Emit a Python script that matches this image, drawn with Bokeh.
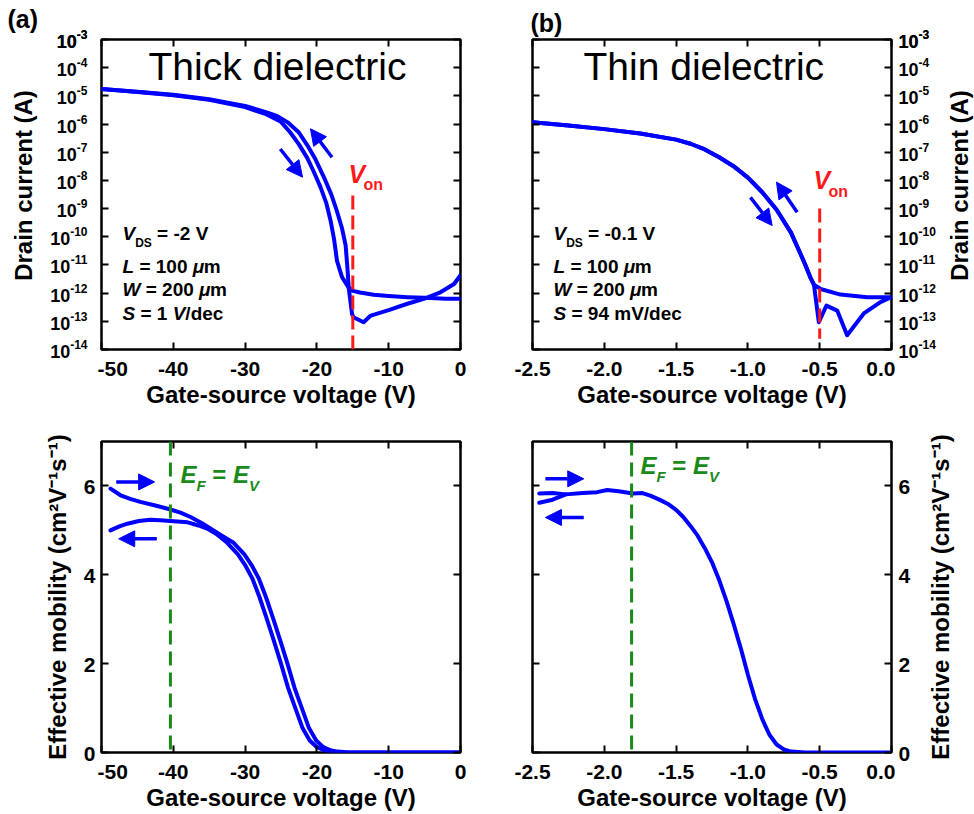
import math
from bokeh.plotting import figure
from bokeh.models import (Range1d, LinearAxis, LogAxis, FixedTicker, Label, Arrow,
                          NormalHead, CustomJSTickFormatter, PrintfTickFormatter)
from bokeh.core.properties import value
from bokeh.layouts import column, row
from bokeh.embed import file_html
from bokeh.resources import INLINE

FONT = "Liberation Sans"
BLUE = "#0000ff"
RED = "#ff1a1a"
GREEN = "#1a8a1a"

# ---------------- data ----------------
# (a) thick dielectric transfer curve, forward sweep (-50 V -> 0 V)
THICK_FWD_VG = [-50, -45, -40, -35, -30, -27, -25, -23.7, -22.5, -21.35, -20.5, -19.5, -18.7,
                -18.1, -17.6, -17.2, -16.5, -15.6, -15.0, -14.0, -12.1, -10.0, -7.4, -5.0, -2.0, 0.0]
THICK_FWD_ID = [1.74e-5, 1.38e-5, 1.05e-5, 7.2e-6, 4.0e-6, 2.2e-6, 1.2e-6, 5.0e-7, 1.9e-7, 6.3e-8,
                2.2e-8, 5.8e-9, 1.6e-9, 3.8e-10, 7.9e-11, 1.4e-11, 3.7e-12, 1.6e-12, 1.2e-12,
                1.05e-12, 8.7e-13, 7.9e-13, 7.2e-13, 6.8e-13, 6.3e-13, 6.3e-13]
# (a) reverse sweep (0 V -> -50 V)
THICK_REV_VG = [0.0, -0.9, -2.8, -5.1, -7.4, -10.0, -12.5, -13.5, -14.9, -15.1, -15.55, -15.75,
                -16.0, -16.5, -17.2, -18.0, -19.08, -20.2, -21.35, -22.5, -24.0, -25.5, -27.0,
                -30.0, -35.0, -40.0, -45.0, -50.0]
THICK_REV_ID = [4.3e-12, 2.1e-12, 1.07e-12, 6.3e-13, 4.2e-13, 2.5e-13, 1.6e-13, 9.3e-14, 1.4e-13,
                1.8e-13, 1.4e-12, 7.9e-12, 5.0e-11, 2.0e-10, 7.9e-10, 3.2e-9, 1.4e-8, 5.6e-8,
                1.8e-7, 5.0e-7, 1.12e-6, 1.9e-6, 2.6e-6, 4.4e-6, 7.6e-6, 1.1e-5, 1.4e-5, 1.74e-5]

# (b) thin dielectric transfer curve, forward sweep
THIN_FWD_VG = [-2.5, -2.25, -2.0, -1.75, -1.5, -1.4, -1.3, -1.2, -1.1, -1.0, -0.9, -0.8, -0.7,
               -0.634, -0.6, -0.564, -0.54, -0.506, -0.453, -0.378, -0.309, -0.193, -0.077, 0.0]
THIN_FWD_ID = [1.15e-6, 8.9e-7, 6.6e-7, 4.6e-7, 2.8e-7, 2.0e-7, 1.26e-7, 6.6e-8, 3.2e-8, 1.26e-8,
               3.8e-9, 9.1e-10, 1.41e-10, 2.5e-11, 1.0e-11, 3.5e-12, 2.0e-12, 9.3e-14, 3.6e-13,
               2.4e-13, 3.2e-14, 1.9e-13, 4.8e-13, 7.2e-13]
# (b) reverse sweep
THIN_REV_VG = [0.0, -0.17, -0.355, -0.494, -0.54, -0.564, -0.6, -0.634, -0.7, -0.8, -0.9, -1.0,
               -1.1, -1.2, -1.3, -1.4, -1.5, -1.75, -2.0, -2.25, -2.5]
THIN_REV_ID = [7.2e-13, 7.2e-13, 8.9e-13, 1.4e-12, 2.0e-12, 3.5e-12, 1.0e-11, 2.5e-11, 1.41e-10,
               9.1e-10, 3.8e-9, 1.26e-8, 3.2e-8, 6.6e-8, 1.26e-7, 2.0e-7, 2.8e-7, 4.6e-7, 6.6e-7,
               8.9e-7, 1.15e-6]

# (a) effective mobility, two sweep directions
THICK_MU_UP_VG = [-48.75, -47.35, -46.0, -44.6, -42.5, -40.4, -39.0, -37.6, -36.0, -34.4, -33.0,
                  -31.6, -30.1, -29.1, -28.1, -27.1, -26.1, -25.1, -24.1, -23.1, -22.1, -21.1,
                  -20.1, -19.1, -18.1, -17.1, -15.5, -10.0, 0.0]
THICK_MU_UP = [5.94, 5.79, 5.71, 5.64, 5.56, 5.47, 5.40, 5.30, 5.16, 5.00, 4.86, 4.72, 4.46,
               4.22, 3.92, 3.50, 3.02, 2.52, 2.00, 1.45, 1.00, 0.55, 0.27, 0.12, 0.05, 0.02, 0.0,
               0.0, 0.0]
THICK_MU_DN_VG = [-48.75, -47.5, -46.4, -44.8, -43.2, -41.8, -40.4, -38.0, -36.5, -35.3, -34.0,
                  -32.5, -31.0, -30.0, -29.0, -28.0, -27.0, -26.0, -25.0, -24.0, -23.0, -22.0,
                  -21.0, -20.0, -19.0, -18.0, -16.5, -10.0, 0.0]
THICK_MU_DN = [5.00, 5.09, 5.15, 5.21, 5.24, 5.23, 5.21, 5.18, 5.11, 5.04, 4.92, 4.72, 4.46, 4.22,
               3.92, 3.50, 3.02, 2.52, 2.00, 1.45, 1.00, 0.55, 0.27, 0.12, 0.05, 0.02, 0.0, 0.0,
               0.0]

# (b) effective mobility
THIN_MU_UP_VG = [-2.453, -2.36, -2.268, -2.15, -2.05, -1.98, -1.9, -1.8, -1.734, -1.68, -1.609,
                 -1.55, -1.5, -1.45, -1.4, -1.35, -1.3, -1.25, -1.2, -1.15, -1.1, -1.05, -1.0,
                 -0.95, -0.9, -0.85, -0.8, -0.75, -0.7, -0.6, 0.0]
THIN_MU_UP = [5.83, 5.84, 5.81, 5.84, 5.86, 5.91, 5.88, 5.83, 5.84, 5.78, 5.68, 5.58, 5.46, 5.30,
              5.10, 4.88, 4.60, 4.28, 3.88, 3.42, 2.90, 2.35, 1.75, 1.20, 0.75, 0.40, 0.18, 0.07,
              0.02, 0.0, 0.0]
THIN_MU_DN_VG = [-2.453, -2.36, -2.268]
THIN_MU_DN = [5.62, 5.69, 5.81]

# markers on the voltage axis
V_ON_THICK = -15.0
V_ON_THIN = -0.5
EF_EV_THICK = -40.4
EF_EV_THIN = -1.81

# axis ticks
THICK_VG_TICKS = [-50, -40, -30, -20, -10, 0]
THIN_VG_TICKS = [-2.5, -2.0, -1.5, -1.0, -0.5, 0.0]
ID_EXPONENTS = list(range(-14, -2))
MU_TICKS = [0, 2, 4, 6]

# ---------------- geometry ----------------
FW, TOP_H, BOT_H = 359, 310, 311
ROW1_H, ROW2_H = 420, 394
A_TOP, A_BOT = 39, ROW1_H - 39 - TOP_H
C_TOP, C_BOT = 21, ROW2_H - 21 - BOT_H
LEFT_STRIP, RIGHT_STRIP = 97, 79
TEN_SIZE, EXP_SIZE = 18, 12

# Liberation Sans Bold advance widths (1/1000 em)
ADV = {" ": 278, "-": 333, "=": 584, ".": 278, "/": 278, "(": 333, ")": 333, "V": 667, "L": 611,
       "W": 944, "S": 667, "D": 722, "E": 667, "F": 611, "m": 889, "μ": 576, "d": 611, "e": 556,
       "c": 556, "o": 611, "n": 611}


def width(s, size):
    return sum(ADV.get(ch, 556) for ch in s) * size / 1000.0


def note(p, dx, dy, text, size, color="black", style="bold"):
    """Text whose baseline starts at (dx, dy) pixels from the frame's top-left corner."""
    p.add_layout(Label(x=p.x_range.start, y=p.y_range.start, x_offset=dx,
                       y_offset=p.frame_height - (dy - 0.35 * size), text=text, text_font=FONT,
                       text_font_size=f"{size}px", text_font_style=style, text_color=color,
                       text_align="left", text_baseline="middle"))


def rich(p, dx, dy, pieces, color="black"):
    """Run of text pieces (text, size, style, drop) laid out left to right."""
    x = dx
    for text, size, style, drop in pieces:
        body = text.lstrip(" ")
        x += width(text[:len(text) - len(body)], size)
        note(p, x, dy + drop, body, size, color=color, style=style)
        x += width(body, size)


def panel(xr, yr, log_y, fh, left, right, top, bottom):
    p = figure(frame_width=FW, frame_height=fh, x_range=Range1d(*xr), y_range=Range1d(*yr),
               y_axis_type="log" if log_y else "linear", x_axis_location=None,
               y_axis_location=None, min_border_left=left, min_border_right=right,
               min_border_top=top, min_border_bottom=bottom, toolbar_location=None,
               output_backend="svg", outline_line_color="black", outline_line_width=2.5,
               background_fill_color="white", border_fill_color="white", frame_align=False)
    p.xgrid.visible = False
    p.ygrid.visible = False
    return p


def strip(w, h, yr, log_y):
    s = figure(frame_width=w, frame_height=h, x_range=Range1d(0, w), y_range=Range1d(*yr),
               y_axis_type="log" if log_y else "linear", x_axis_location=None,
               y_axis_location=None, min_border_left=0, min_border_right=0, min_border_top=0,
               min_border_bottom=0, toolbar_location=None, output_backend="svg",
               outline_line_color=None, background_fill_color="white",
               border_fill_color="white", frame_align=False)
    s.xgrid.visible = False
    s.ygrid.visible = False
    return s


def stext(s, x, y, text, size, align="left", angle=0.0, dy=0.0, style="bold"):
    s.text(x=[x], y=[y], text=[text], text_font=value(FONT), text_font_size=value(f"{size}px"),
           text_font_style=style, text_color="black", text_align=align,
           text_baseline="middle", angle=angle, y_offset=dy)


def axis(p, cls, side, ticks, fmt=None, title=None):
    ax = cls(ticker=FixedTicker(ticks=ticks, minor_ticks=[]))
    ax.axis_line_color = None
    ax.major_tick_in = 7
    ax.major_tick_out = 0
    ax.minor_tick_in = 0
    ax.minor_tick_out = 0
    ax.major_tick_line_width = 2
    ax.major_tick_line_color = "black"
    if fmt is None:
        ax.formatter = CustomJSTickFormatter(code="return ''")
        ax.major_label_text_font_size = "0px"
        ax.major_label_standoff = 0
    else:
        ax.formatter = PrintfTickFormatter(format=fmt)
        ax.major_label_text_font = FONT
        ax.major_label_text_font_style = "bold"
        ax.major_label_text_font_size = "21px"
        ax.major_label_text_color = "black"
        ax.major_label_standoff = 12
    if title is not None:
        ax.axis_label = title
        ax.axis_label_text_font = FONT
        ax.axis_label_text_font_style = "bold"
        ax.axis_label_text_font_size = "24px"
        ax.axis_label_text_color = "black"
        ax.axis_label_standoff = 2
    p.add_layout(ax, side)
    return ax


def frame_axes(p, xticks, xfmt, yticks, log_y):
    axis(p, LinearAxis, "below", xticks, xfmt, "Gate-source voltage (V)")
    axis(p, LinearAxis, "above", xticks)
    ycls = LogAxis if log_y else LinearAxis
    axis(p, ycls, "left", yticks)
    axis(p, ycls, "right", yticks)


def arrow(p, x0, y0, x1, y1):
    p.add_layout(Arrow(end=NormalHead(size=16, fill_color=BLUE, line_color=BLUE, line_width=1),
                       x_start=x0, y_start=y0, x_end=x1, y_end=y1,
                       line_color=BLUE, line_width=3.5))


def curve(p, x, y):
    p.line(x, y, line_color=BLUE, line_width=4, line_join="round", line_cap="round")


DECADES = [10.0 ** k for k in ID_EXPONENTS + [-3]]
MOB = "Effective mobility (cm²V⁻¹s⁻¹)"
PPD = TOP_H / 11.0            # pixels per decade on the current axes
PPU = BOT_H / 7.0             # pixels per mobility unit
ID_STRIP_RANGE = (10.0 ** (-14 - A_BOT / PPD), 10.0 ** (-3 + A_TOP / PPD))
MU_STRIP_RANGE = (-C_BOT / PPU, 7 + C_TOP / PPU)

# ---------------- (a) top: thick dielectric transfer ----------------
pa = panel((-50, 0), (1e-14, 1e-3), True, TOP_H, 4, 20, A_TOP, A_BOT)
frame_axes(pa, THICK_VG_TICKS, "%d", DECADES, True)
curve(pa, THICK_FWD_VG, THICK_FWD_ID)
curve(pa, THICK_REV_VG, THICK_REV_ID)
pa.segment(x0=[V_ON_THICK], y0=[2.9e-9], x1=[V_ON_THICK], y1=[1e-14], line_color=RED,
           line_width=3, line_dash="14 6")
arrow(pa, -25.1, 1.3e-7, -22.0, 1.3e-8)
arrow(pa, -17.9, 6.6e-8, -20.9, 6.8e-7)
note(pa, 47, 41, "Thick dielectric", 39, style="normal")
rich(pa, 247, 143, [("V", 25, "bold italic", 0)], color=RED)
rich(pa, 262, 151, [("on", 16, "bold", 0)], color=RED)
rich(pa, 21, 201, [("V", 19, "bold italic", 0), ("DS", 12, "bold", 7), (" = -2 V", 19, "bold", 0)])
rich(pa, 21, 234, [("L", 19, "bold italic", 0), (" = 100 ", 19, "bold", 0),
                   ("μ", 19, "bold italic", 0), ("m", 19, "bold", 0)])
rich(pa, 21, 257, [("W", 19, "bold italic", 0), (" = 200 ", 19, "bold", 0),
                   ("μ", 19, "bold italic", 0), ("m", 19, "bold", 0)])
rich(pa, 21, 281, [("S", 19, "bold italic", 0), (" = 1 ", 19, "bold", 0),
                   ("V", 19, "bold italic", 0), ("/dec", 19, "bold", 0)])

# left strip: decade labels, axis title, panel tag
sa = strip(LEFT_STRIP, ROW1_H, ID_STRIP_RANGE, True)
for k in ID_EXPONENTS + [-3]:
    sup = f"{k}"
    stext(sa, 87 - width(sup, EXP_SIZE), 10.0 ** k, "10", TEN_SIZE, align="right", dy=2)
    stext(sa, 87, 10.0 ** k, sup, EXP_SIZE, align="right", dy=-5)
stext(sa, 23, 10.0 ** -8.18, "Drain current (A)", 24, align="center", angle=math.pi / 2)
stext(sa, 7, ID_STRIP_RANGE[1], "(a)", 25, dy=27 - 0.35 * 25)

# ---------------- (b) top: thin dielectric transfer ----------------
pb = panel((-2.5, 0), (1e-14, 1e-3), True, TOP_H, 52, 4, A_TOP, A_BOT)
frame_axes(pb, THIN_VG_TICKS, "%.1f", DECADES, True)
pb.title.text = "(b)"
pb.title.align = "left"
pb.title.offset = -2
pb.title.standoff = 5
pb.title.text_font = FONT
pb.title.text_font_size = "25px"
pb.title.text_font_style = "bold"
pb.title.text_color = "black"
curve(pb, THIN_FWD_VG, THIN_FWD_ID)
curve(pb, THIN_REV_VG, THIN_REV_ID)
pb.segment(x0=[V_ON_THIN], y0=[1e-9], x1=[V_ON_THIN], y1=[2.4e-14], line_color=RED,
           line_width=3, line_dash="14 6")
arrow(pb, -0.982, 2.5e-9, -0.831, 2.5e-10)
arrow(pb, -0.657, 7.4e-10, -0.801, 8.7e-9)
note(pb, 51, 41, "Thin dielectric", 39, style="normal")
rich(pb, 281, 149, [("V", 25, "bold italic", 0)], color=RED)
rich(pb, 296, 158, [("on", 16, "bold", 0)], color=RED)
rich(pb, 21, 201, [("V", 19, "bold italic", 0), ("DS", 12, "bold", 7),
                   (" = -0.1 V", 19, "bold", 0)])
rich(pb, 21, 234, [("L", 19, "bold italic", 0), (" = 100 ", 19, "bold", 0),
                   ("μ", 19, "bold italic", 0), ("m", 19, "bold", 0)])
rich(pb, 21, 257, [("W", 19, "bold italic", 0), (" = 200 ", 19, "bold", 0),
                   ("μ", 19, "bold italic", 0), ("m", 19, "bold", 0)])
rich(pb, 21, 281, [("S", 19, "bold italic", 0), (" = 94 mV/dec", 19, "bold", 0)])

# right strip: decade labels and axis title
sb = strip(RIGHT_STRIP, ROW1_H, ID_STRIP_RANGE, True)
for k in ID_EXPONENTS + [-3]:
    stext(sb, 3, 10.0 ** k, "10", TEN_SIZE, dy=2)
    stext(sb, 3 + width("10", TEN_SIZE), 10.0 ** k, f"{k}", EXP_SIZE, dy=-5)
stext(sb, 64, 10.0 ** -8.18, "Drain current (A)", 24, align="center", angle=math.pi / 2)

# ---------------- (a) bottom: thick dielectric mobility ----------------
pc = panel((-50, 0), (0, 7), False, BOT_H, 4, 20, C_TOP, C_BOT)
frame_axes(pc, THICK_VG_TICKS, "%d", MU_TICKS, False)
curve(pc, THICK_MU_UP_VG, THICK_MU_UP)
curve(pc, THICK_MU_DN_VG, THICK_MU_DN)
pc.segment(x0=[EF_EV_THICK], y0=[7], x1=[EF_EV_THICK], y1=[0], line_color=GREEN,
           line_width=3, line_dash="14 7")
arrow(pc, -47.95, 6.09, -42.6, 6.09)
arrow(pc, -42.3, 4.81, -47.6, 4.81)
rich(pc, 79, 41, [("E", 24, "bold italic", 0), ("F", 15, "bold italic", 8),
                  (" = ", 24, "bold", 0), ("E", 24, "bold italic", 0),
                  ("V", 15, "bold italic", 8)], color=GREEN)

sc = strip(LEFT_STRIP, ROW2_H, MU_STRIP_RANGE, False)
for t in MU_TICKS:
    stext(sc, 95, t, f"{t}", 21, align="right", dy=1)
stext(sc, 57, 3.5, MOB, 24, align="center", angle=math.pi / 2)

# ---------------- (b) bottom: thin dielectric mobility ----------------
pd = panel((-2.5, 0), (0, 7), False, BOT_H, 52, 4, C_TOP, C_BOT)
frame_axes(pd, THIN_VG_TICKS, "%.1f", MU_TICKS, False)
curve(pd, THIN_MU_UP_VG, THIN_MU_UP)
curve(pd, THIN_MU_DN_VG, THIN_MU_DN)
pd.segment(x0=[EF_EV_THIN], y0=[7], x1=[EF_EV_THIN], y1=[0], line_color=GREEN,
           line_width=3, line_dash="14 7")
arrow(pd, -2.41, 6.16, -2.143, 6.16)
arrow(pd, -2.143, 5.29, -2.41, 5.29)
rich(pd, 108, 32, [("E", 24, "bold italic", 0), ("F", 15, "bold italic", 8),
                   (" = ", 24, "bold", 0), ("E", 24, "bold italic", 0),
                   ("V", 15, "bold italic", 8)], color=GREEN)

sd = strip(RIGHT_STRIP, ROW2_H, MU_STRIP_RANGE, False)
for t in MU_TICKS:
    stext(sd, 3, t, f"{t}", 21, dy=1)
stext(sd, 45, 3.5, MOB, 24, align="center", angle=math.pi / 2)

layout = column(row(sa, pa, pb, sb), row(sc, pc, pd, sd))
open("out.html", "w").write(file_html(layout, INLINE))
